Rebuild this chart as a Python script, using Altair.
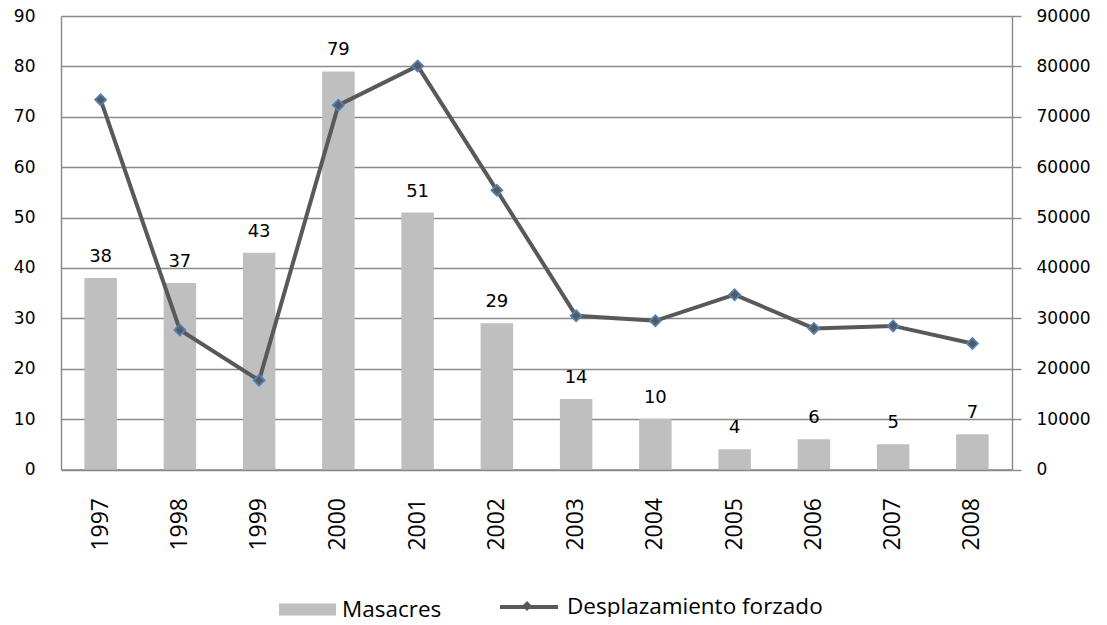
import altair as alt
import pandas as pd

years = ["1997", "1998", "1999", "2000", "2001", "2002", "2003", "2004", "2005", "2006", "2007", "2008"]
masacres = [38, 37, 43, 79, 51, 29, 14, 10, 4, 6, 5, 7]
desplazamiento = [73400, 27700, 17700, 72300, 80100, 55400, 30500, 29500, 34700, 28000, 28500, 25000]
left_ticks = [0, 10, 20, 30, 40, 50, 60, 70, 80, 90]
right_ticks = [0, 10000, 20000, 30000, 40000, 50000, 60000, 70000, 80000, 90000]

df = pd.DataFrame({
    "year": years,
    "masacres": masacres,
    "desp": desplazamiento,
    "s1": "Masacres",
    "s2": "Desplazamiento forzado",
    "s3": "marker",
})

GRID = "#898989"
NUMFONT = "DejaVu Sans"
TXTFONT = "Open Sans"

x = alt.X("year:N", sort=None, title=None,
          scale=alt.Scale(paddingInner=0.59, paddingOuter=0.295),
          axis=alt.Axis(labelAngle=-90, labelFont=TXTFONT, labelFontSize=23, labelColor="#000",
                        labelPadding=28, ticks=False, tickSize=0, domainColor=GRID, domainWidth=1.4,
                        grid=False))

yl = alt.Y("masacres:Q", scale=alt.Scale(domain=[0, 90], nice=False), title=None,
           axis=alt.Axis(values=left_ticks, ticks=False, tickSize=0, labelPadding=26,
                         labelFont=NUMFONT, labelFontSize=17, labelColor="#000",
                         grid=True, gridColor=GRID, gridWidth=1.4, domainColor=GRID, domainWidth=1.4))

yr = alt.Y("desp:Q", scale=alt.Scale(domain=[0, 90000], nice=False), title=None,
           axis=alt.Axis(orient="right", values=right_ticks, format="d", tickSize=9, tickColor=GRID,
                         tickWidth=1.4, labelPadding=15, labelFont=NUMFONT, labelFontSize=17,
                         labelColor="#000", grid=False, domainColor=GRID, domainWidth=1.4))

bars = alt.Chart(df).mark_bar().encode(
    x=x, y=yl,
    fill=alt.Fill("s1:N", scale=alt.Scale(range=["#BFBFBF"]),
                  legend=alt.Legend(title=None, orient="none", legendX=218, legendY=565, padding=0,
                                    symbolType="M-1,-0.21L1,-0.21L1,0.21L-1,0.21Z", symbolSize=3249,
                                    symbolStrokeWidth=0, labelFont=TXTFONT, labelFontSize=22.5,
                                    labelColor="#000", labelOffset=6, labelLimit=600)),
)

labels = alt.Chart(df).mark_text(font=NUMFONT, fontSize=18, color="#000", baseline="alphabetic",
                                 dy=-16).encode(x=x, y=yl, text="masacres:Q")

line = alt.Chart(df).mark_line(strokeWidth=4).encode(
    x=x, y=yr,
    stroke=alt.Stroke("s2:N", scale=alt.Scale(range=["#595959"]),
                      legend=alt.Legend(title=None, orient="none", legendX=437, legendY=560, padding=0,
                                        symbolType="stroke", symbolSize=3364, symbolStrokeWidth=4,
                                        labelFont=TXTFONT, labelFontSize=22.5, labelColor="#000",
                                        labelOffset=7, labelLimit=600)),
)

points = alt.Chart(df).mark_point(filled=True, fill="#595959", stroke="#4F81BD", strokeWidth=1.8,
                                  size=120, opacity=1).encode(
    x=x, y=yr,
    shape=alt.Shape("s3:N", scale=alt.Scale(range=["diamond"]),
                    legend=alt.Legend(title=None, orient="none", legendX=460, legendY=584, padding=0,
                                      symbolSize=100, symbolFillColor="#595959",
                                      symbolStrokeColor="#4F81BD", symbolStrokeWidth=1.8,
                                      labelExpr="''", labelFontSize=1)),
)

chart = alt.layer(
    alt.layer(bars, labels),
    alt.layer(line, points),
).resolve_scale(y="independent").properties(
    width=951, height=453.5,
    padding={"left": 53, "top": 8, "right": 87, "bottom": 147},
    autosize=alt.AutoSizeParams(type="none"),
).configure_view(stroke=None)

chart.save("out.html", embed_options={"renderer": "svg", "actions": False})
